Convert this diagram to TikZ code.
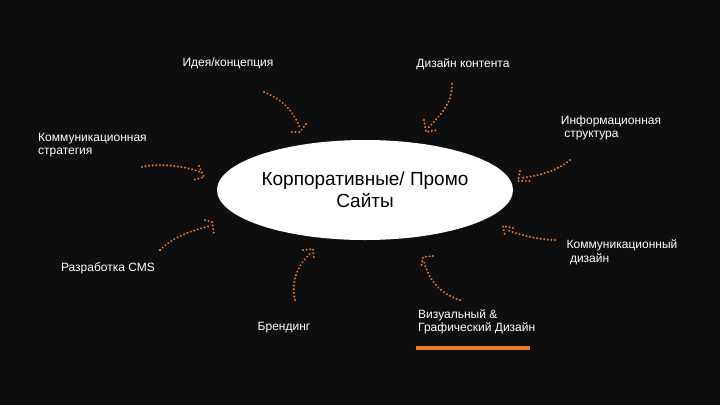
\documentclass[tikz,border=0pt]{standalone}
\usepackage{fontspec}
\setmainfont{Liberation Sans}
\usetikzlibrary{shapes.geometric}
\definecolor{bg}{HTML}{0F0E0E}
\definecolor{orng}{HTML}{F07A22}
\begin{document}
\begin{tikzpicture}[x=1pt,y=-1pt,
  lbl/.style={text=white,font=\fontsize{12}{13.5}\selectfont,inner sep=0pt},
  dots/.style={orng,line width=2.2pt,dash pattern=on 0.01pt off 3.6pt,line cap=round}]
\fill[bg] (0,0) rectangle (720,405);
\useasboundingbox (0,0) rectangle (720,405);
\node[ellipse,fill=white,minimum width=296,minimum height=100,inner sep=0pt,align=center,font=\fontsize{19}{22}\selectfont] (c) at (365,190) {Корпоративные/ Промо\\Сайты};
\node[lbl] (t1) at (228,63) {Идея/концепция};
\node[lbl] (t2) at (463,64) {Дизайн контента};
\node[lbl,align=left] (t3) at (611,128) {Информационная\\\ структура};
\node[lbl,align=left,anchor=west] (t4) at (38,145) {Коммуникационная\\стратегия};
\node[lbl] (t5) at (108,268) {Разработка CMS};
\node[lbl,align=left] (t6) at (622,252) {Коммуникационный\\\ дизайн};
\node[lbl] (t7) at (284,328) {Брендинг};
\node[lbl,align=left,anchor=west] (t8) at (418,322) {Визуальный \&\\Графический Дизайн};
\draw[orng,line width=4pt] (416,348) -- (530,348);
% arrows
\coordinate (a1) at (300,132); \draw[dots] (264,92) .. controls (285,100) and (295,115) .. (300,128);
\draw[dots] (306,124) -- (a1) -- (290,132);
\coordinate (a2) at (426,132); \draw[dots] (452,84) .. controls (452,105) and (440,115) .. (428,128);
\draw[dots] (424,120) -- (a2) -- (437,130);
\coordinate (a3) at (518,181); \draw[dots] (570,160) .. controls (555,172) and (540,175) .. (522,178);
\draw[dots] (520,171) -- (a3) -- (530,181);
\coordinate (a4) at (204,177); \draw[dots] (142,167) .. controls (160,163) and (185,166) .. (200,172);
\draw[dots] (199,166) -- (a4) -- (193,180);
\coordinate (a5) at (212,222); \draw[dots] (160,250) .. controls (175,235) and (195,230) .. (210,226);
\draw[dots] (205,220) -- (a5) -- (214,234);
\coordinate (a6) at (503,226); \draw[dots] (555,240) .. controls (540,240) and (520,235) .. (507,230);
\draw[dots] (513,228) -- (a6) -- (505,236);
\coordinate (a7) at (313,249); \draw[dots] (295,300) .. controls (290,280) and (300,262) .. (311,253);
\draw[dots] (303,250) -- (a7) -- (314,260);
\coordinate (a8) at (423,257); \draw[dots] (460,300) .. controls (435,292) and (428,275) .. (424,262);
\draw[dots] (433,256) -- (a8) -- (421,268);
\end{tikzpicture}
\end{document}
